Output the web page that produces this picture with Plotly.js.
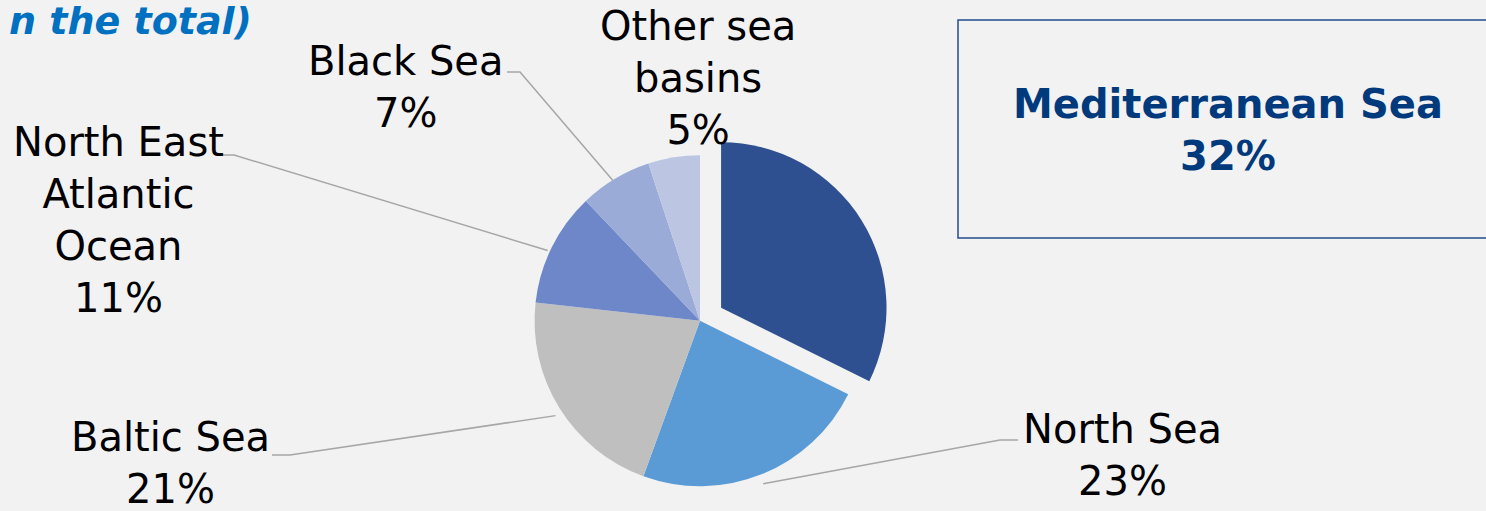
<!DOCTYPE html>
<html>
<head>
<meta charset="utf-8">
<script src="https://cdn.plot.ly/plotly-3.0.1.min.js"></script>
<style>
html,body{margin:0;padding:0;background:#f2f2f2;}
#chart{width:1486px;height:511px;}
</style>
</head>
<body>
<div id="chart"></div>
<script>
// ---- data ----
var categories = ["Mediterranean Sea", "North Sea", "Baltic Sea", "North East Atlantic Ocean", "Black Sea", "Other sea basins"];
var shares = [32, 23, 21, 11, 7, 5];
var labelTexts = ["Mediterranean Sea", "North Sea", "Baltic Sea", "North East<br>Atlantic<br>Ocean", "Black Sea", "Other sea<br>basins"];
var colors = ["#2e5090", "#5b9bd5", "#bfbfbf", "#6d87c9", "#9aabd8", "#bcc6e3"];
var pulls = [0.15, 0, 0, 0, 0, 0];

// ---- layout helpers (pixel geometry of the page) ----
var W = 1486, H = 511;
function px(x){ return x / W; }
function py(y){ return 1 - y / H; }

var cx = 700, cy = 326, R = 170;
var maxPull = Math.max.apply(null, pulls);
var half = R * (1 + maxPull);

var trace = {
  type: "pie",
  labels: categories,
  values: shares,
  sort: false,
  direction: "clockwise",
  rotation: 0,
  pull: pulls,
  textinfo: "none",
  hoverinfo: "none",
  marker: {colors: colors, line: {width: 0}},
  domain: {x: [px(cx - half), px(cx + half)], y: [py(cy + half), py(cy - half)]},
  showlegend: false
};

var total = shares.reduce(function(a,b){return a+b;}, 0);
function pct(v){ return Math.round(v / total * 100) + "%"; }
// edge point of a slice (mid angle) in pixel coordinates
var cum = 0, edge = [];
shares.forEach(function(v){
  var mid = (cum + v / 2) / total * 2 * Math.PI;
  edge.push([cx + R * Math.sin(mid), cy - R * Math.cos(mid)]);
  cum += v;
});

var font = "DejaVu Sans";
var labelFont = {family: font, size: 40, color: "#000000"};
// label placements (pixel centres of the text blocks)
var labelPos = [
  null,
  [1122, 455],
  [170, 463],
  [118, 220],
  [405, 87],
  [698, 78]
];
var annotations = [];
for (var i = 1; i < categories.length; i++) {
  annotations.push({
    x: px(labelPos[i][0]), y: py(labelPos[i][1]), xref: "paper", yref: "paper",
    xanchor: "center", yanchor: "middle", showarrow: false, align: "center",
    text: labelTexts[i] + "<br>" + pct(shares[i]), font: labelFont
  });
}
annotations.push({
  x: px(1228), y: py(130), xref: "paper", yref: "paper",
  xanchor: "center", yanchor: "middle", showarrow: false, align: "center",
  text: "<b>" + labelTexts[0] + "<br>" + pct(shares[0]) + "</b>",
  font: {family: font, size: 40, color: "#003a7d"}
});
annotations.push({
  x: px(254), y: py(21), xref: "paper", yref: "paper",
  xanchor: "right", yanchor: "middle", showarrow: false,
  text: "<b><i>n the total)</i></b>",
  font: {family: font, size: 38, color: "#0070c0"}
});

// leader lines: from label side to slice edge
var leaderStarts = {1: [[1018, 440], [1000, 440]], 2: [[272, 455], [290, 455]], 3: [[222, 155], [234, 155]], 4: [[507, 72], [520, 72]]};
var shapes = [];
Object.keys(leaderStarts).forEach(function(k){
  var s = leaderStarts[k], e = edge[k];
  var path = "M " + px(s[0][0]) + " " + py(s[0][1]) + " L " + px(s[1][0]) + " " + py(s[1][1]) + " L " + px(e[0]) + " " + py(e[1]);
  shapes.push({type: "path", xref: "paper", yref: "paper", path: path, line: {color: "#a6a6a6", width: 1.5}});
});
shapes.push({type: "rect", xref: "paper", yref: "paper", x0: px(958), x1: px(1500), y0: py(238), y1: py(20),
  line: {color: "#1f4e8c", width: 1.5}, fillcolor: "rgba(0,0,0,0)"});

var layout = {
  width: W, height: H,
  margin: {l: 0, r: 0, t: 0, b: 0},
  paper_bgcolor: "#f2f2f2",
  plot_bgcolor: "#f2f2f2",
  annotations: annotations,
  shapes: shapes,
  showlegend: false
};

Plotly.newPlot("chart", [trace], layout, {staticPlot: true, displayModeBar: false});
</script>
</body>
</html>
